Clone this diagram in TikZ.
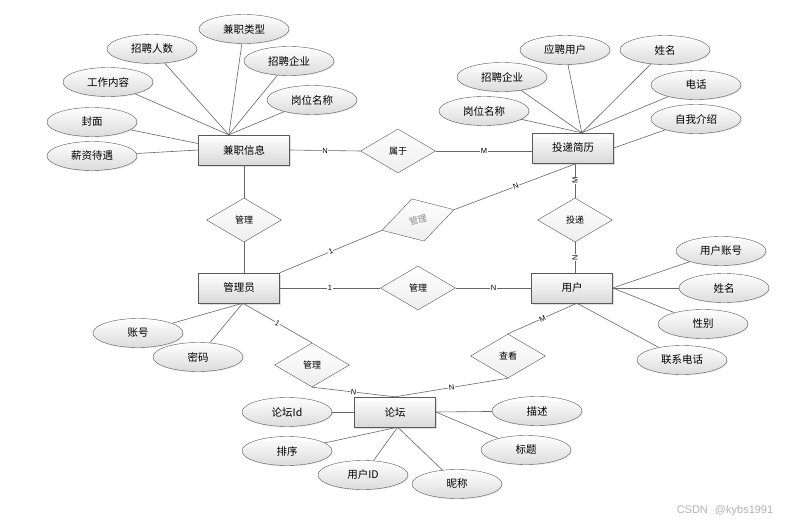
\documentclass[tikz,border=0pt]{standalone}
\usepackage{fontspec}
\setmainfont{Noto Sans CJK SC}
\newfontfamily\lblfont{Liberation Sans}
\usetikzlibrary{positioning,shapes,shadows}

\begin{document}
\begin{tikzpicture}[x=1pt,y=-1pt]
		% pixel coordinates, y grows downwards
		\tikzstyle{entity} = [rectangle, draw=black!65, top color=white, bottom color=black!15, minimum width=81pt, minimum height=30pt, font=\fontsize{10.5}{12}\selectfont, drop shadow={opacity=0.25,shadow xshift=1.5pt,shadow yshift=-1.5pt}]
		\tikzstyle{attr} = [ellipse, draw=black!65, top color=white, bottom color=black!14, minimum width=90pt, minimum height=29pt, inner sep=0pt, font=\fontsize{10.5}{12}\selectfont, drop shadow={opacity=0.15,shadow xshift=1pt,shadow yshift=-1pt}]
		\tikzstyle{rel} = [diamond, draw=black!65, top color=white, bottom color=black!7, minimum width=75pt, minimum height=44pt, inner sep=0pt, aspect=1.7, font=\fontsize{9}{10}\selectfont]
		\tikzstyle{link} = [draw=black!60, line width=0.6pt]
		\tikzstyle{card} = [fill=white, inner sep=0.5pt, font=\lblfont\fontsize{7.5}{8}\selectfont, sloped]
		\useasboundingbox (0,0) rectangle (804,527);

		% entities
		\node [entity, minimum width=91pt] (jz) at (244,150) {兼职信息};
		\node [entity] (tdjl) at (573,148) {投递简历};
		\node [entity] (gly) at (239,288) {管理员};
		\node [entity] (yh) at (572,288) {用户};
		\node [entity] (lt) at (395,412) {论坛};

		% relations
		\node [rel] (sy) at (398,151) {属于};
		\node [rel] (gl1) at (244,220) {管理};
		\node [rel, rotate=16, text=black!45] (gl2) at (418,220) {管理};
		\node [rel] (td) at (575,220) {投递};
		\node [rel] (gl3) at (418,288) {管理};
		\node [rel] (gl4) at (312,365) {管理};
		\node [rel] (ck) at (508,356) {查看};

		% attributes
		\node [attr] (jzlx) at (244,29) {兼职类型};
		\node [attr] (zprs) at (152,49) {招聘人数};
		\node [attr] (zpqy1) at (289,61) {招聘企业};
		\node [attr] (gznr) at (108,82) {工作内容};
		\node [attr] (gwmc1) at (312,100) {岗位名称};
		\node [attr] (fm) at (92,122) {封面};
		\node [attr] (xzdy) at (92,156) {薪资待遇};

		\node [attr] (ypyh) at (565,50) {应聘用户};
		\node [attr] (xm1) at (665,50) {姓名};
		\node [attr] (zpqy2) at (502,77) {招聘企业};
		\node [attr] (dh) at (696,85) {电话};
		\node [attr] (gwmc2) at (484,111) {岗位名称};
		\node [attr] (zwjs) at (696,119) {自我介绍};

		\node [attr] (yhzh) at (721,251) {用户账号};
		\node [attr] (xm2) at (724,288) {姓名};
		\node [attr] (xb) at (703,324) {性别};
		\node [attr] (lxdh) at (682,360) {联系电话};

		\node [attr] (zh) at (138,333) {账号};
		\node [attr] (mm) at (198,357) {密码};

		\node [attr] (ltid) at (287,412) {论坛Id};
		\node [attr] (px) at (287,451) {排序};
		\node [attr] (yhid) at (363,475) {用户ID};
		\node [attr] (nc) at (457,484) {昵称};
		\node [attr] (ms) at (537,411) {描述};
		\node [attr] (bt) at (526,450) {标题};

		\node [font=\lblfont\fontsize{11}{12}\selectfont, text=black!30] (wm) at (725,511) {CSDN\hspace{4pt} @kybs1991};

		% attribute links
		\path[link] (jzlx) edge (jz.135) (zprs) edge (jz.135) (zpqy1) edge (jz.135) (gznr) edge (jz.135) (gwmc1) edge (jz.135);
		\path[link] (fm) edge (jz.172) (xzdy) edge (jz.west);
		\path[link] (ypyh) edge (tdjl.60) (xm1) edge (tdjl.60) (zpqy2) edge (tdjl.60) (dh) edge (tdjl.60) (gwmc2) edge (tdjl.60);
		\path[link] (zwjs) edge (tdjl.east);
		\path[link] (yhzh) edge (yh.east) (xm2) edge (yh.east) (xb) edge (yh.east) (lxdh) edge (yh.-72);
		\path[link] (zh) edge (gly.-76) (mm) edge (gly.-76);
		\path[link] (ltid) edge (lt.west) (px) edge (lt.-80) (yhid) edge (lt.-80) (nc) edge (lt.-80);
		\path[link] (ms) edge (lt.east) (bt) edge (lt.east);

		% relation links
		\path[link] (jz.east) edge node[card] {N} (sy.west);
		\path[link] (sy.east) edge node[card] {M} (sy.east -| tdjl.west);
		\path[link] (jz.south -| gl1.north) edge (gl1.north);
		\path[link] (gl1.south) edge (gl1.south |- gly.north);
		\path[link] (gly.north east) edge node[card] {1} (gl2.west);
		\path[link] (gl2.east) edge node[card] {N} (tdjl.-75);
		\path[link] (td.north) edge node[card] {M} (td.north |- tdjl.south);
		\path[link] (td.south |- yh.north) edge node[card] {N} (td.south);
		\path[link] (gly.east) edge node[card] {1} (gl3.west);
		\path[link] (gl3.east) edge node[card] {N} (yh.west);
		\path[link] (gly.-76) edge node[card] {1} (gl4.north);
		\path[link] (gl4.south) edge node[card] {N} (lt.north);
		\path[link] (ck.north) edge node[card] {M} (yh.-72);
		\path[link] (lt.north) edge node[card] {N} (ck.south);
	\end{tikzpicture}
\end{document}
